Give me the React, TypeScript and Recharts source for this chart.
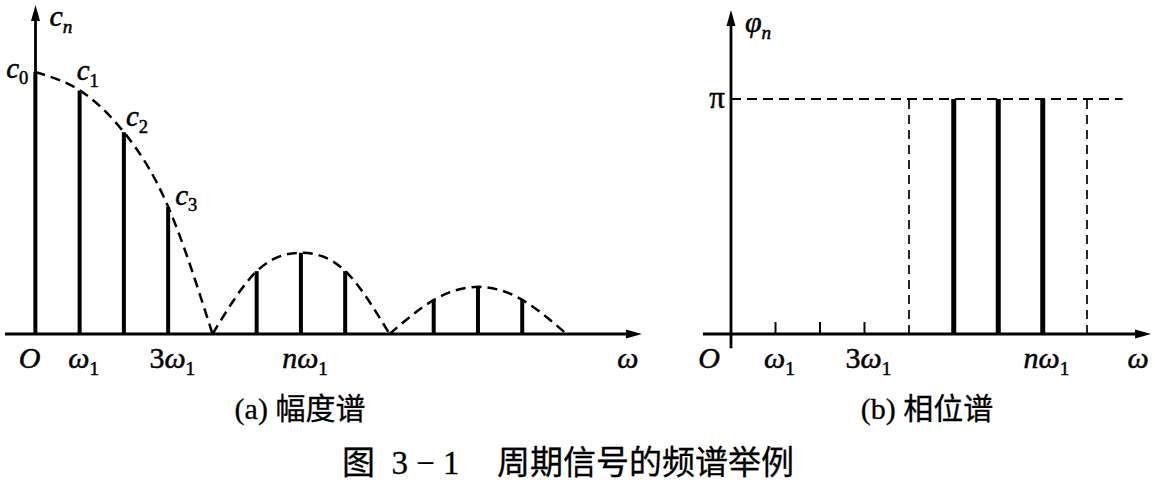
import React from 'react';
import { ComposedChart, Bar, Line, Scatter, XAxis, YAxis, ReferenceLine, LabelList } from 'recharts';

const PI = Math.PI;

// (a) amplitude spectrum, c0 = 1
const harmonics = [0, 1, 2, 3, 4, 5, 6, 7, 8, 9, 10, 11, 12];
const amplitudes = [1.0, 0.93, 0.77, 0.485, 0, 0.24, 0.31, 0.24, 0, 0.13, 0.18, 0.13, 0];
const envelopeLobes = [[0, 4], [4, 8], [8, 12]]; // harmonic range of each dashed lobe
const coefSubs = ['0', '1', '2', '3']; // c0..c3 labelled
const ampTicks = [0, 1, 3, 6];
const ampTickLabels = [['O', ''], ['ω', '1'], ['3ω', '1'], ['nω', '1']];

// (b) phase spectrum
const phaseHarmonics = [5, 6, 7];
const phaseValues = [PI, PI, PI];
const jumpHarmonics = [4, 8]; // dashed
const zeroPhaseHarmonics = [1, 2, 3];
const phaseTicks = [0, 1, 3, 7];
const phaseTickLabels = [['O', ''], ['ω', '1'], ['3ω', '1'], ['nω', '1']];
const piLineEnd = 8.8;

const ampData = harmonics.map((n, i) => {
  const row: any = { n, amp: amplitudes[i], coef: coefSubs[i] };
  envelopeLobes.forEach(([lo, hi], k) => {
    row['lobe' + k] = n >= lo && n <= hi ? amplitudes[i] : null;
  });
  return row;
});
const phaseData = phaseHarmonics.map((n, i) => ({ n, phase: phaseValues[i] }));
const zeroPhaseData = zeroPhaseHarmonics.map((n) => ({ n, phase: 0 }));

const SERIF = '"Liberation Serif", "Times New Roman", serif';
const CJK = '"Liberation Serif", "Noto Sans CJK SC", sans-serif';

const isDigit = (ch: string) => /[0-9]/.test(ch);

const MathText = ({ x, y, main, sub, anchor = 'start', size = 30 }: any) => (
  <text
    x={x}
    y={y}
    textAnchor={anchor}
    fontFamily={SERIF}
    fontSize={size}
    fill="#000"
    stroke="#000"
    strokeWidth={0.5}
  >
    {main.split('').map((ch: string, i: number) => (
      <tspan key={i} fontStyle={isDigit(ch) ? 'normal' : 'italic'}>{ch}</tspan>
    ))}
    {sub ? (
      <tspan fontSize={size * 0.64} dy={size * 0.22} fontStyle={isDigit(sub) ? 'normal' : 'italic'}>
        {sub}
      </tspan>
    ) : null}
  </text>
);

// axis line with arrow head and a label near the tip
const arrowAxis = (label: string, sub: string, lx: number, ly: number, anchor: string) => (p: any) => {
  const { x1, y1, x2, y2 } = p;
  const dx = x2 - x1;
  const dy = y2 - y1;
  const len = Math.hypot(dx, dy) || 1;
  const ux = dx / len;
  const uy = dy / len;
  const L = 16;
  const W = 4.5;
  const bx = x2 - ux * L;
  const by = y2 - uy * L;
  return (
    <g>
      <line x1={x1} y1={y1} x2={bx + ux * 3} y2={by + uy * 3} stroke="#000" strokeWidth={2.8} />
      <polygon
        points={`${x2},${y2} ${bx - uy * W},${by + ux * W} ${bx + uy * W},${by - ux * W}`}
        fill="#000"
      />
      <MathText x={x2 + lx} y={y2 + ly} main={label} sub={sub} anchor={anchor} />
    </g>
  );
};

const tickRenderer = (values: number[], labels: string[][], originDx: number) => (p: any) => {
  const { x, y, payload } = p;
  const i = values.indexOf(payload.value);
  if (i < 0) return <g />;
  const [main, sub] = labels[i];
  const dx = payload.value === 0 ? originDx : 4;
  return <MathText x={x + dx} y={y + 34} main={main} sub={sub} anchor="middle" />;
};

const renderCoefLabel = (p: any) => {
  const { x, y, width, value, index } = p;
  if (value == null || value === '') return null;
  const cx = x + width / 2;
  if (index === 0) return <MathText x={cx - 7} y={y + 6} main="c" sub={value} anchor="end" size={29} />;
  return <MathText x={cx - 3 + 5 * (index - 1)} y={y - 10 + 4 * (index - 1)} main="c" sub={value} size={29} />;
};

const piLine = (p: any) => {
  const { x1, y1, x2, y2 } = p;
  return (
    <g>
      <line x1={x1} y1={y1} x2={x2} y2={y2} stroke="#000" strokeWidth={2.2} strokeDasharray="10 6" />
      <text
        x={x1 - 6}
        y={y1 + 9}
        textAnchor="end"
        fontFamily={SERIF}
        fontSize={31}
        fill="#000"
        stroke="#000"
        strokeWidth={0.5}
      >
        π
      </text>
    </g>
  );
};

const stubShape = (p: any) => (
  <line x1={p.cx} y1={p.cy} x2={p.cx} y2={p.cy - 12} stroke="#000" strokeWidth={2} />
);

export default function App() {
  return (
    <div style={{ position: 'absolute', left: 0, top: 0, width: 1155, height: 480, background: '#fff' }}>
      <div style={{ position: 'absolute', left: 0, top: 0 }}>
        <ComposedChart width={660} height={380} data={ampData} margin={{ top: 0, right: 0, bottom: 0, left: 0 }}>
          <XAxis
            dataKey="n"
            type="number"
            domain={[-0.802, 14.11]}
            allowDataOverflow
            ticks={ampTicks}
            interval={0}
            axisLine={false}
            tickLine={false}
            tickSize={0}
            tickMargin={0}
            height={46}
            tick={tickRenderer(ampTicks, ampTickLabels, -6)}
          />
          <YAxis hide type="number" domain={[0, 1.275]} allowDataOverflow />
          <ReferenceLine
            segment={[{ x: -0.69, y: 0 }, { x: 13.7, y: 0 }]}
            ifOverflow="visible"
            shape={arrowAxis('ω', '', -14, 34, 'middle')}
          />
          <ReferenceLine
            segment={[{ x: 0, y: 0 }, { x: 0, y: 1.256 }]}
            ifOverflow="visible"
            shape={arrowAxis('c', 'n', 14, 21, 'start')}
          />
          <Bar dataKey="amp" barSize={4} fill="#000" isAnimationActive={false}>
            <LabelList dataKey="coef" content={renderCoefLabel} />
          </Bar>
          {envelopeLobes.map((_, k) => (
            <Line
              key={k}
              dataKey={'lobe' + k}
              type="natural"
              stroke="#000"
              strokeWidth={2.5}
              strokeDasharray="10 6"
              dot={false}
              activeDot={false}
              connectNulls={false}
              isAnimationActive={false}
            />
          ))}
        </ComposedChart>
      </div>

      <div style={{ position: 'absolute', left: 680, top: 0 }}>
        <ComposedChart width={475} height={380} data={phaseData} margin={{ top: 0, right: 0, bottom: 0, left: 0 }}>
          <XAxis
            dataKey="n"
            type="number"
            domain={[-1.146, 9.528]}
            allowDataOverflow
            ticks={phaseTicks}
            interval={0}
            axisLine={false}
            tickLine={false}
            tickSize={0}
            tickMargin={0}
            height={46}
            tick={tickRenderer(phaseTicks, phaseTickLabels, -22)}
          />
          <YAxis hide type="number" domain={[0, PI * 1.4213]} allowDataOverflow />
          <ReferenceLine
            segment={[{ x: -0.63, y: 0 }, { x: 9.44, y: 0 }]}
            ifOverflow="visible"
            shape={arrowAxis('ω', '', -13, 34, 'middle')}
          />
          <ReferenceLine
            segment={[{ x: 0, y: -0.19 }, { x: 0, y: PI * 1.3787 }]}
            ifOverflow="visible"
            shape={arrowAxis('φ', 'n', 14, 22, 'start')}
          />
          <ReferenceLine segment={[{ x: 0, y: PI }, { x: piLineEnd, y: PI }]} ifOverflow="visible" shape={piLine} />
          {jumpHarmonics.map((n) => (
            <ReferenceLine
              key={n}
              segment={[{ x: n, y: 0 }, { x: n, y: PI }]}
              ifOverflow="visible"
              stroke="#000"
              strokeWidth={1.7}
              strokeDasharray="9 6"
            />
          ))}
          <Bar dataKey="phase" barSize={5} fill="#000" isAnimationActive={false} />
          <Scatter data={zeroPhaseData} dataKey="phase" shape={stubShape} isAnimationActive={false} />
        </ComposedChart>
      </div>

      <svg width={1155} height={480} style={{ position: 'absolute', left: 0, top: 0, pointerEvents: 'none' }}>
        <g fontFamily={CJK} fill="#000" stroke="#000" strokeWidth={0.3}>
          <text x={300} y={419} textAnchor="middle" fontSize={30}>
            (a) 幅度谱
          </text>
          <text x={927} y={419} textAnchor="middle" fontSize={30}>
            (b) 相位谱
          </text>
          <text x={342} y={474} fontSize={33}>
            {'图\u00a0\u00a03\u00a0−\u00a01'}
          </text>
          <text x={497} y={474} fontSize={33}>
            周期信号的频谱举例
          </text>
        </g>
      </svg>
    </div>
  );
}
